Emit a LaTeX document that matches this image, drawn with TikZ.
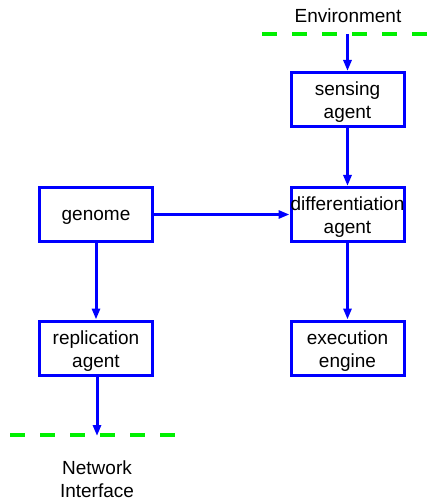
\documentclass[tikz,border=0pt]{standalone}
\usepackage{fontspec}
\setmainfont{Liberation Sans}
\usetikzlibrary{arrows.meta}
\definecolor{lineblue}{RGB}{0,0,255}
\definecolor{dashgreen}{RGB}{0,240,0}
\begin{document}
\begin{tikzpicture}[x=1pt,y=-1pt,
  agentbox/.style={draw=lineblue,line width=3pt,minimum width=113pt,minimum height=54pt,inner sep=0pt},
  flow/.style={draw=lineblue,line width=3pt,-{Triangle[length=11pt,width=8pt]}},
  boundary/.style={draw=dashgreen,line width=4pt,dash pattern=on 15pt off 15pt},
  lbl/.style={align=center,font=\fontsize{19}{23}\selectfont,inner sep=0pt},
  boxtext/.style={label={[lbl,yshift=-3pt]center:#1}}]
\useasboundingbox (0,0) rectangle (428,502);
\node[agentbox,boxtext={sensing\\agent}] (sense) at (347.5,99.5) {};
\node[agentbox,boxtext={genome}] (genome) at (96,214.5) {};
\node[agentbox,boxtext={differentiation\\agent}] (diff) at (347.5,214.5) {};
\node[agentbox,boxtext={replication\\agent}] (repl) at (96,348) {};
\node[agentbox,boxtext={execution\\engine}] (exec) at (347.5,348) {};
\coordinate (envL) at (262,34);
\coordinate (envR) at (428,34);
\coordinate (envA) at (347.5,34);
\coordinate (netL) at (10,435);
\coordinate (netR) at (182,435);
\coordinate (netA) at (97,436);
\draw[boundary] (envL) -- (envR);
\draw[boundary] (netL) -- (netR);
\node[lbl] (env) at (348,16) {Environment};
\node[lbl] (net) at (97,479) {Network\\Interface};
\draw[flow] (envA) -- (sense);
\draw[flow] (sense) -- (diff);
\draw[flow] (genome) -- (diff);
\draw[flow] (genome) -- (repl);
\draw[flow] (diff) -- (exec);
\draw[flow] (repl.south -| netA) -- (netA);
\end{tikzpicture}
\end{document}
